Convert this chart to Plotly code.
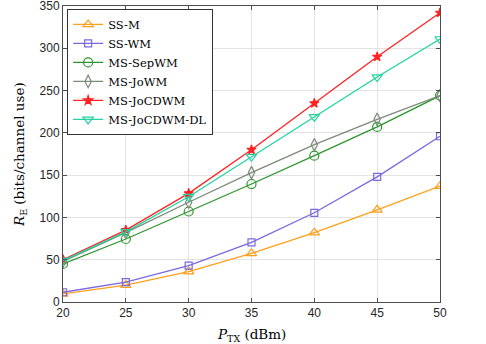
import plotly.graph_objects as go

power_dbm = [20, 25, 30, 35, 40, 45, 50]

ss_m = [9.5, 20, 36, 57.5, 82, 109, 137]
ss_wm = [11.5, 23.5, 43, 70.5, 105.5, 148, 196]
ms_sepwm = [45, 74.5, 107, 139.5, 173, 207, 244]
ms_jowm = [48, 82, 118, 153, 186, 216, 244]
ms_jocdwm = [50, 85, 128.5, 180, 235, 290, 342]
ms_jocdwm_dl = [49, 83, 124.5, 172, 219, 266, 311]

series = [
    ("SS-M", ss_m, "#FF9F1C", "triangle-up-open", 9),
    ("SS-WM", ss_wm, "#7B68E0", "square-open", 7),
    ("MS-SepWM", ms_sepwm, "#2E962E", "circle-open", 9),
    ("MS-JoWM", ms_jowm, "#7C8A7A", "diamond-tall-open", 9),
    ("MS-JoCDWM", ms_jocdwm, "#FF2222", "star", 7),
    ("MS-JoCDWM-DL", ms_jocdwm_dl, "#22D3A0", "triangle-down-open", 9),
]

fig = go.Figure()
for name, vals, col, sym, sz in series:
    fig.add_trace(go.Scatter(
        x=power_dbm, y=vals, name=name, mode="lines+markers",
        line=dict(color=col, width=1.3),
        marker=dict(symbol=sym, size=sz, color=col, line=dict(color=col, width=1.2)),
    ))

axis_style = dict(
    showline=True, linecolor="#4d4d4d", linewidth=1, mirror="ticks",
    ticks="inside", ticklen=4, tickcolor="#4d4d4d",
    showgrid=True, gridcolor="#e3e3e3", gridwidth=1, zeroline=False,
    automargin=False, ticklabeloverflow="allow",
    tickfont=dict(family="Liberation Sans, Arial", size=12, color="#262626"),
)

serif = dict(family="DejaVu Serif", size=13.5, color="black")

fig.update_layout(
    width=486, height=344,
    margin=dict(l=63, r=46, t=6, b=42),
    paper_bgcolor="white", plot_bgcolor="white",
    showlegend=True,
    legend=dict(
        x=0.011, y=0.99, xanchor="left", yanchor="top",
        bgcolor="white", bordercolor="#333333", borderwidth=1,
        font=dict(family="DejaVu Serif", size=11.5, color="black"),
        tracegroupgap=0, itemwidth=30,
    ),
    xaxis=dict(axis_style, range=[20, 50], tickvals=power_dbm),
    yaxis=dict(axis_style, range=[0, 350], dtick=50),
    annotations=[
        dict(text="<i>P</i><sub>TX</sub> (dBm)", xref="paper", yref="paper",
             x=0.5, y=0, yshift=-22, xanchor="center", yanchor="top",
             showarrow=False, font=serif),
        dict(text="<i>R</i><sub>E</sub> (bits/channel use)", xref="paper", yref="paper",
             x=0, y=0.5, xshift=-32, xanchor="right", yanchor="middle", textangle=-90,
             showarrow=False, font=serif),
    ],
)

# drop the page's default body margin so the figure sits at the window corner
fig.write_html("out.html", config={"displayModeBar": False},
               post_script="document.body.style.margin='0';")
